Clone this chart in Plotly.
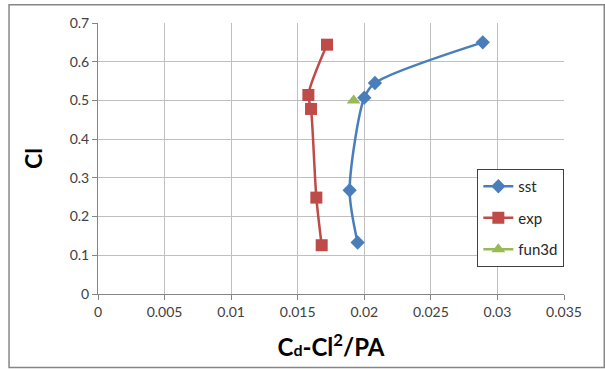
import plotly.graph_objects as go

# Drag polar: induced-drag-corrected Cd versus Cl
sst_x = [0.0289, 0.0208, 0.0200, 0.0189, 0.0195]
sst_y = [0.650, 0.545, 0.507, 0.268, 0.133]

exp_x = [0.0172, 0.0158, 0.0160, 0.0164, 0.0168]
exp_y = [0.644, 0.514, 0.478, 0.249, 0.126]

fun3d_x = [0.0192]
fun3d_y = [0.500]

x_ticks = [0, 0.005, 0.01, 0.015, 0.02, 0.025, 0.03, 0.035]
x_tick_text = ["0", "0.005", "0.01", "0.015", "0.02", "0.025", "0.03", "0.035"]
y_ticks = [0, 0.1, 0.2, 0.3, 0.4, 0.5, 0.6, 0.7]
y_tick_text = ["0", "0.1", "0.2", "0.3", "0.4", "0.5", "0.6", "0.7"]

FONT = "Lato, 'Liberation Sans', Arial, sans-serif"
BLUE = "#4A7EBB"
RED = "#BE4B48"
GREEN = "#98B954"

fig = go.Figure()
fig.add_trace(go.Scatter(
    x=sst_x, y=sst_y, name="sst", mode="lines+markers", legendgroup="sst",
    line=dict(color=BLUE, width=2.5, shape="spline", smoothing=0.8),
    marker=dict(symbol="diamond", size=11, color=BLUE),
))
fig.add_trace(go.Scatter(
    x=exp_x, y=exp_y, name="exp", mode="lines+markers", legendgroup="exp",
    line=dict(color=RED, width=2.5, shape="spline", smoothing=0.8),
    marker=dict(symbol="square", size=12, color=RED),
))
fig.add_trace(go.Scatter(
    x=fun3d_x, y=fun3d_y, name="fun3d", mode="lines+markers", legendgroup="fun3d",
    line=dict(color=GREEN, width=2.5),
    marker=dict(symbol="triangle-up", size=12, color=GREEN),
))

L, R, T, B = 97.5, 41.3, 23.3, 75.3
W, H = 605, 369
pw, ph = W - L - R, H - T - B

fig.update_layout(
    width=W, height=H,
    margin=dict(l=L, r=R, t=T, b=B, pad=0),
    paper_bgcolor="white", plot_bgcolor="white",
    font=dict(family=FONT, size=14, color="#404040"),
    showlegend=True,
    legend=dict(
        x=(477 - L) / pw, y=(H - B - 169) / ph, xanchor="left", yanchor="top",
        bordercolor="#404040", borderwidth=1, bgcolor="white",
        font=dict(family=FONT, size=15, color="#262626"),
        itemwidth=30, tracegroupgap=9,
    ),
    xaxis=dict(
        range=[0, 0.035], tickvals=x_ticks, ticktext=x_tick_text,
        showgrid=True, gridcolor="#BFBFBF", gridwidth=1,
        showline=True, linecolor="#868686", linewidth=1,
        ticks="outside", ticklen=5, tickcolor="#868686",
        zeroline=False, fixedrange=True,
        title=dict(
            text="<b>C<span style='font-size:16px'>d</span>-Cl<sup>2</sup>/PA</b>",
            font=dict(family=FONT, size=24, color="#000000"), standoff=20,
        ),
    ),
    yaxis=dict(
        range=[0, 0.7], tickvals=y_ticks, ticktext=y_tick_text,
        showgrid=True, gridcolor="#BFBFBF", gridwidth=1,
        showline=True, linecolor="#868686", linewidth=1,
        ticks="outside", ticklen=5, tickcolor="#868686",
        zeroline=False, fixedrange=True,
        title=dict(text="<b>Cl</b>", font=dict(family=FONT, size=23, color="#000000"), standoff=20),
    ),
    shapes=[dict(
        type="rect", xref="paper", yref="paper",
        x0=(8.5 - L) / pw, x1=(604 - L) / pw,
        y0=(H - B - 367) / ph, y1=(H - B - 5) / ph,
        line=dict(color="#868686", width=1.5), fillcolor="rgba(0,0,0,0)", layer="below",
    )],
)

fig.write_html("out.html")
